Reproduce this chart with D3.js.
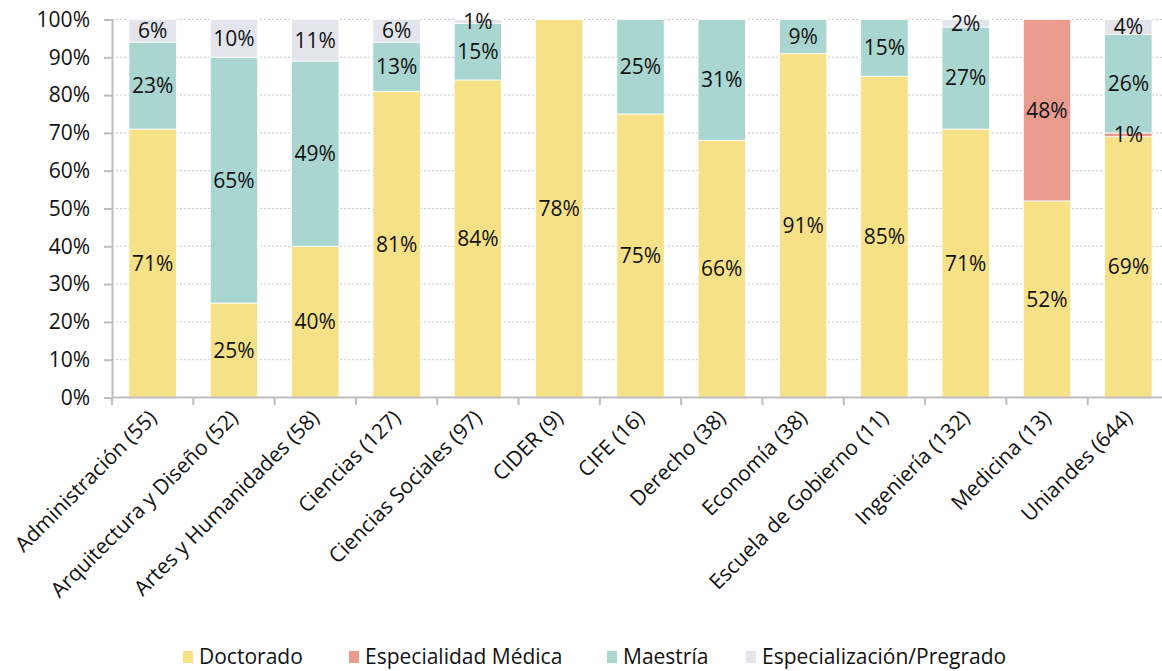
<!doctype html>
<html>
  <head>
    <meta charset="utf-8">
    <script src="https://cdnjs.cloudflare.com/ajax/libs/d3/7.8.5/d3.min.js"></script>
    <style>
      body { margin: 0; background: #fff; }
      svg text { font-family: "Open Sans", sans-serif; fill: #111; }
    </style>
  </head>
  <body>
    <svg id="chart" width="1162" height="671"></svg>
  <script>
    // categories and values (percent labels as shown in the picture)
    var categories = ["Administración (55)", "Arquitectura y Diseño (52)", "Artes y Humanidades (58)",
      "Ciencias (127)", "Ciencias Sociales (97)", "CIDER (9)", "CIFE (16)", "Derecho (38)",
      "Economía (38)", "Escuela de Gobierno (11)", "Ingeniería (132)", "Medicina (13)", "Uniandes (644)"];
    var seriesNames = ["Doctorado", "Especialidad Médica", "Maestría", "Especialización/Pregrado"];
    var doctorado       = [71, 25, 40, 81, 84, 78, 75, 66, 91, 85, 71, 52, 69];
    var especialidad    = [0, 0, 0, 0, 0, 0, 0, 0, 0, 0, 0, 48, 1];
    var maestria        = [23, 65, 49, 13, 15, 0, 25, 31, 9, 15, 27, 0, 26];
    var especializacion = [6, 10, 11, 6, 1, 0, 0, 0, 0, 0, 2, 0, 4];
    var yTicks = [0, 0.1, 0.2, 0.3, 0.4, 0.5, 0.6, 0.7, 0.8, 0.9, 1];
    var colors = ["#f7e187", "#e99b8d", "#a9d6d0", "#e4e5ec"];

    var rows = categories.map(function(c, i) {
      return { cat: c, "Doctorado": doctorado[i], "Especialidad Médica": especialidad[i],
               "Maestría": maestria[i], "Especialización/Pregrado": especializacion[i] };
    });

    var stack = d3.stack().keys(seriesNames).offset(d3.stackOffsetExpand);
    var layers = stack(rows);

    var svg = d3.select("#chart");
    var x = d3.scaleBand().domain(categories).range([112, 1169]).paddingInner(0.417).paddingOuter(0.2085);
    var y = d3.scaleLinear().domain([0, 1]).range([397.5, 19.5]);
    var color = d3.scaleOrdinal().domain(seriesNames).range(colors);
    var fs = "21px";

    // dotted grid
    svg.append("g").selectAll("line")
      .data(yTicks.filter(function(t) { return t > 0; }))
      .enter().append("line")
        .attr("x1", 112).attr("x2", 1169)
        .attr("y1", function(d) { return y(d); }).attr("y2", function(d) { return y(d); })
        .style("stroke", "#c8c8c8").style("stroke-width", 1).style("stroke-dasharray", "2,2");

    // bars
    var g = svg.append("g");
    layers.forEach(function(layer) {
      g.selectAll(null)
        .data(layer.filter(function(d) { return d[1] - d[0] > 0; }))
        .enter().append("rect")
          .attr("x", function(d) { return x(d.data.cat); })
          .attr("width", x.bandwidth())
          .attr("y", function(d) { return y(d[1]); })
          .attr("height", function(d) { return y(d[0]) - y(d[1]); })
          .style("fill", color(layer.key))
          .style("stroke", "#fff").style("stroke-width", 0.8);
    });

    // value labels
    layers.forEach(function(layer) {
      g.selectAll(null)
        .data(layer.filter(function(d) { return d[1] - d[0] > 0; }))
        .enter().append("text")
          .attr("x", function(d) { return x(d.data.cat) + x.bandwidth() / 2; })
          .attr("y", function(d) { return y((d[0] + d[1]) / 2); })
          .attr("dy", "0.35em")
          .attr("text-anchor", "middle")
          .style("font-size", fs)
          .text(function(d) { return d.data[layer.key] + "%"; });
    });

    // y axis
    var yAxis = d3.axisLeft(y).tickValues(yTicks).tickFormat(d3.format(".0%")).tickSize(8).tickPadding(14);
    var ya = svg.append("g").attr("transform", "translate(112,0)").call(yAxis);
    ya.select(".domain").style("stroke", "#bdbdbd").style("stroke-width", 2);
    ya.selectAll(".tick line").style("stroke", "#bdbdbd").style("stroke-width", 2);
    ya.selectAll(".tick text").style("font-size", fs).style("font-family", "Open Sans").style("fill", "#111");

    // x axis line and ticks between bands
    svg.append("line").attr("x1", 112).attr("x2", 1169).attr("y1", 397.5).attr("y2", 397.5)
      .style("stroke", "#bdbdbd").style("stroke-width", 2);
    var step = x.step();
    svg.append("g").selectAll("line")
      .data(d3.range(categories.length + 1))
      .enter().append("line")
        .attr("x1", function(i) { return 112 + i * step; })
        .attr("x2", function(i) { return 112 + i * step; })
        .attr("y1", 397.5).attr("y2", 405)
        .style("stroke", "#bdbdbd").style("stroke-width", 2);

    svg.append("g").selectAll("text")
      .data(categories)
      .enter().append("text")
        .attr("transform", function(d) {
          return "translate(" + (x(d) + x.bandwidth() / 2) + ",414) rotate(-45)";
        })
        .attr("text-anchor", "end")
        .attr("dy", "0.35em")
        .style("font-size", fs)
        .text(function(d) { return d; });

    // legend
    var legendX = [183, 349, 607, 746];
    var lg = svg.append("g").selectAll("g")
      .data(seriesNames)
      .enter().append("g")
        .attr("transform", function(d, i) { return "translate(" + legendX[i] + ",651)"; });
    lg.append("rect").attr("width", 10).attr("height", 12).attr("y", 0)
      .style("fill", function(d) { return color(d); });
    lg.append("text").attr("x", 16).attr("y", 6).attr("dy", "0.35em")
      .style("font-size", fs)
      .text(function(d) { return d; });
  </script>
  </body>
</html>
